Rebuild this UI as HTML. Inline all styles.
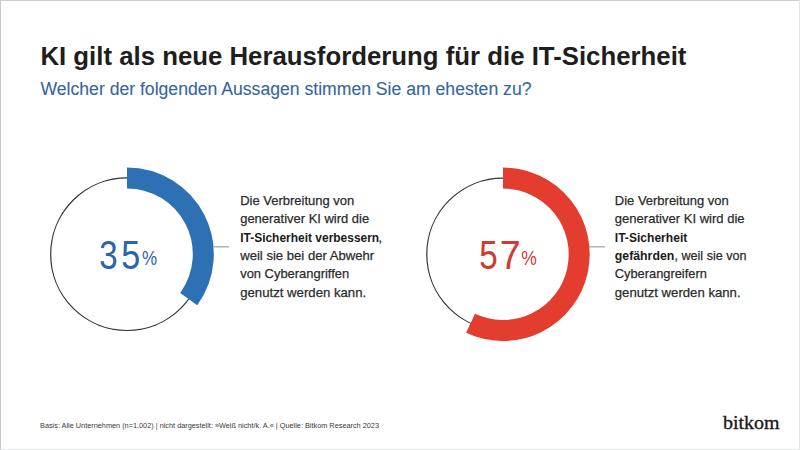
<!DOCTYPE html>
<html><head><meta charset="utf-8">
<style>
html,body{margin:0;padding:0;}
body{width:800px;height:450px;position:relative;overflow:hidden;background:#fff;font-family:"Liberation Sans",sans-serif;}
#frame{position:absolute;left:0;top:0;width:798px;height:448px;border-top:1px solid #c8d0d3;border-left:1px solid #c3cbcd;border-right:1px solid #e3e5e5;border-bottom:1px solid #e6e9ea;}
svg text{font-family:"Liberation Sans",sans-serif;}
</style></head><body>
<div id="frame"></div>
<svg width="800" height="450" style="position:absolute;left:0;top:0">
  <circle cx="127" cy="254.2" r="76.3" fill="none" stroke="#333" stroke-width="1.2"/>
  <path d="M127 177.9 A76.3 76.3 0 0 1 188.73 299.05" fill="none" stroke="#2e70b4" stroke-width="21"/>
  <line x1="213" y1="246.8" x2="229" y2="246.8" stroke="#a8a8a8" stroke-width="1.3"/>
  <circle cx="503" cy="254.3" r="76.2" fill="none" stroke="#333" stroke-width="1.2"/>
  <path d="M503 178.1 A76.2 76.2 0 1 1 470.55 323.25" fill="none" stroke="#e33d2f" stroke-width="21"/>
  <line x1="589" y1="246.8" x2="605" y2="246.8" stroke="#a8a8a8" stroke-width="1.3"/>
  <text transform="translate(99.2,269) scale(0.816,1)" font-size="40.5" fill="#2a64aa">3</text>
  <text transform="translate(121.3,269) scale(0.842,1)" font-size="40.5" fill="#2a64aa">5</text>
  <text transform="translate(142.1,265.2) scale(0.87,1)" font-size="19.5" fill="#2a64aa">%</text>
  <text transform="translate(479.2,269) scale(0.82,1)" font-size="40.5" fill="#d23a30">5</text>
  <text transform="translate(499.8,269) scale(0.93,1)" font-size="40.5" fill="#d23a30">7</text>
  <text transform="translate(521.2,265.2) scale(0.9,1)" font-size="19.5" fill="#d23a30">%</text>
  <text x="40.4" y="65.3" font-size="26.5" font-weight="bold" fill="#1e1e1e" textLength="646" lengthAdjust="spacingAndGlyphs">KI gilt als neue Herausforderung für die IT-Sicherheit</text>
  <text x="40.5" y="95.2" font-size="17.5" fill="#33659d" stroke="#33659d" stroke-width="0.1" textLength="491" lengthAdjust="spacingAndGlyphs">Welcher der folgenden Aussagen stimmen Sie am ehesten zu?</text>
  <text x="40" y="428.2" font-size="7.5" fill="#3a3a3a" textLength="339" lengthAdjust="spacingAndGlyphs">Basis: Alle Unternehmen (n=1.002) | nicht dargestellt: »Weiß nicht/k. A.« | Quelle: Bitkom Research 2023</text>
  <text x="723" y="428.6" font-size="19" style="font-family:'Liberation Serif',serif" fill="#1a1a1a" stroke="#1a1a1a" stroke-width="0.35" textLength="56.5" lengthAdjust="spacingAndGlyphs">bitkom</text>
  <text x="240.2" y="205.1" font-size="13.5" fill="#2b2b2b" stroke="#2b2b2b" stroke-width="0.25" textLength="114.0" lengthAdjust="spacingAndGlyphs">Die Verbreitung von</text>
  <text x="240.2" y="223.4" font-size="13.5" fill="#2b2b2b" stroke="#2b2b2b" stroke-width="0.25" textLength="129.0" lengthAdjust="spacingAndGlyphs">generativer KI wird die</text>
  <text x="240.2" y="241.7" font-size="13.5" font-weight="bold" fill="#1a1a1a" textLength="139.0" lengthAdjust="spacingAndGlyphs">IT-Sicherheit verbessern</text>
  <text x="378.5" y="241.7" font-size="13.5" fill="#2b2b2b" stroke="#2b2b2b" stroke-width="0.25" textLength="3.5" lengthAdjust="spacingAndGlyphs">,</text>
  <text x="240.2" y="260.0" font-size="13.5" fill="#2b2b2b" stroke="#2b2b2b" stroke-width="0.25" textLength="134.0" lengthAdjust="spacingAndGlyphs">weil sie bei der Abwehr</text>
  <text x="240.2" y="278.3" font-size="13.5" fill="#2b2b2b" stroke="#2b2b2b" stroke-width="0.25" textLength="109.0" lengthAdjust="spacingAndGlyphs">von Cyberangriffen</text>
  <text x="240.2" y="296.6" font-size="13.5" fill="#2b2b2b" stroke="#2b2b2b" stroke-width="0.25" textLength="126.0" lengthAdjust="spacingAndGlyphs">genutzt werden kann.</text>
  <text x="614.8" y="205.1" font-size="13.5" fill="#2b2b2b" stroke="#2b2b2b" stroke-width="0.25" textLength="114.0" lengthAdjust="spacingAndGlyphs">Die Verbreitung von</text>
  <text x="614.8" y="223.4" font-size="13.5" fill="#2b2b2b" stroke="#2b2b2b" stroke-width="0.25" textLength="129.8" lengthAdjust="spacingAndGlyphs">generativer KI wird die</text>
  <text x="614.8" y="241.7" font-size="13.5" font-weight="bold" fill="#1a1a1a" textLength="72.5" lengthAdjust="spacingAndGlyphs">IT-Sicherheit</text>
  <text x="614.8" y="260.0" font-size="13.5" font-weight="bold" fill="#1a1a1a" textLength="59.5" lengthAdjust="spacingAndGlyphs">gefährden</text>
  <text x="674.5" y="260.0" font-size="13.5" fill="#2b2b2b" stroke="#2b2b2b" stroke-width="0.25" textLength="72.0" lengthAdjust="spacingAndGlyphs">, weil sie von</text>
  <text x="614.8" y="278.3" font-size="13.5" fill="#2b2b2b" stroke="#2b2b2b" stroke-width="0.25" textLength="92.0" lengthAdjust="spacingAndGlyphs">Cyberangreifern</text>
  <text x="614.8" y="296.6" font-size="13.5" fill="#2b2b2b" stroke="#2b2b2b" stroke-width="0.25" textLength="125.8" lengthAdjust="spacingAndGlyphs">genutzt werden kann.</text>
</svg>
</body></html>
